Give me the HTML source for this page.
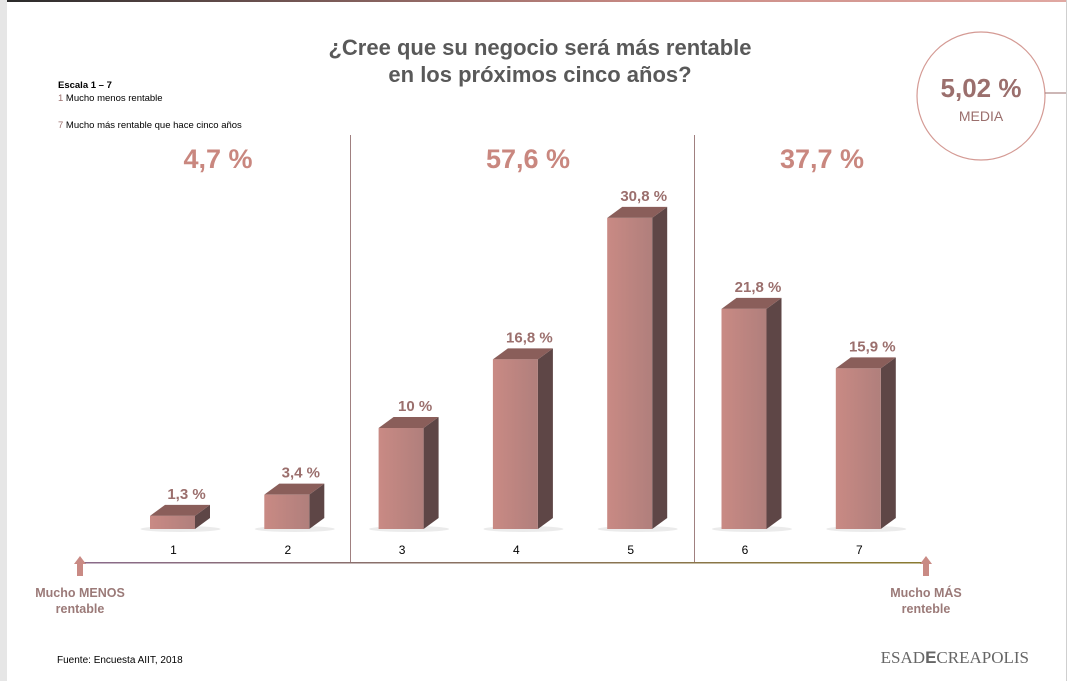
<!DOCTYPE html>
<html><head><meta charset="utf-8"><style>
body{margin:0;width:1068px;height:681px;overflow:hidden;background:#fff;font-family:"Liberation Sans",Verdana,sans-serif}
</style></head><body>
<svg width="1068" height="681" viewBox="0 0 1068 681" style="display:block">
<defs>
<linearGradient id="front" x1="0" x2="1"><stop offset="0" stop-color="#c98a84"/><stop offset="1" stop-color="#b07f7c"/></linearGradient>
<linearGradient id="topl" x1="0" x2="1"><stop offset="0" stop-color="#2a2a2a"/><stop offset="0.6" stop-color="#c98a84"/><stop offset="1" stop-color="#e0a8a2"/></linearGradient>
<linearGradient id="axisg" x1="0" x2="1"><stop offset="0" stop-color="#8a6a8a"/><stop offset="1" stop-color="#8a7a30"/></linearGradient>
</defs>
<rect x="0" y="0" width="7" height="681" fill="#e6e6e6"/>
<rect x="7" y="0" width="1060" height="2" fill="url(#topl)"/>
<line x1="1066.5" y1="0" x2="1066.5" y2="681" stroke="#cfcfcf"/>
<text x="540" y="55" text-anchor="middle" font-size="22" font-weight="bold" fill="#595959">¿Cree que su negocio será más rentable</text>
<text x="540" y="82" text-anchor="middle" font-size="22" font-weight="bold" fill="#595959">en los próximos cinco años?</text>
<g font-family="Liberation Sans, Verdana, sans-serif" font-size="9.5">
<text x="58" y="88" font-weight="bold" fill="#000">Escala 1 – 7</text>
<text x="58" y="101" fill="#000"><tspan fill="#9b6f6d">1</tspan> Mucho menos rentable</text>
<text x="58" y="128" fill="#000"><tspan fill="#9b6f6d">7</tspan>  Mucho más rentable que hace cinco años</text>
</g>
<circle cx="981" cy="96" r="64" fill="#fff" stroke="#d49a94" stroke-width="1.2"/>
<line x1="1045" y1="93" x2="1066" y2="93" stroke="#9b6f6d"/>
<text x="981" y="97" text-anchor="middle" font-size="26" font-weight="bold" fill="#9b6f6d">5,02 %</text>
<text x="981" y="121" text-anchor="middle" font-size="14" fill="#9b6f6d">MEDIA</text>
<line x1="350.5" y1="135" x2="350.5" y2="562" stroke="#a08080"/>
<line x1="694.5" y1="135" x2="694.5" y2="562" stroke="#a08080"/>
<text x="218" y="168" text-anchor="middle" font-size="27" font-weight="bold" fill="#c9877f">4,7 %</text>
<text x="528" y="168" text-anchor="middle" font-size="27" font-weight="bold" fill="#c9877f">57,6 %</text>
<text x="822" y="168" text-anchor="middle" font-size="27" font-weight="bold" fill="#c9877f">37,7 %</text>
<rect x="80" y="562" width="850" height="1.5" fill="url(#axisg)"/>
<g><polygon points="80,556 74,564 77,564 77,576 83,576 83,564 86,564" fill="#c98a84"/></g>
<g><polygon points="926,556 920,564 923,564 923,576 929,576 929,564 932,564" fill="#c98a84"/></g>
<g font-size="12.5" font-weight="bold" fill="#9b7a78" text-anchor="middle">
<text x="80" y="597">Mucho MENOS</text>
<text x="80" y="613">rentable</text>
<text x="926" y="597">Mucho MÁS</text>
<text x="926" y="613">renteble</text>
</g>
<text x="57" y="663" font-size="10" fill="#000">Fuente: Encuesta AIIT, 2018</text>
<text x="1029" y="663" text-anchor="end" font-family="Liberation Serif, serif" font-size="17" fill="#666">ESAD<tspan font-family="Liberation Sans, sans-serif" font-weight="bold">E</tspan>CREAPOLIS</text>
<g id="bars"></g>
</svg>
<script>
const categories = ["1","2","3","4","5","6","7"];
const values = [1.3, 3.4, 10, 16.8, 30.8, 21.8, 15.9];
const valueLabels = ["1,3 %","3,4 %","10 %","16,8 %","30,8 %","21,8 %","15,9 %"];
const NS = "http://www.w3.org/2000/svg";
const base = 529, scale = 10.1, x0 = 150, step = 114.3, bw = 45, dx = 15, dy = 11;
const xPos = i => x0 + i * step;
const yPos = v => base - v * scale;
const g = document.getElementById("bars");
function mk(tag, attrs){const e=document.createElementNS(NS,tag);for(const k in attrs)e.setAttribute(k,attrs[k]);g.appendChild(e);return e;}
values.forEach((v,i)=>{
  const x = xPos(i), y = yPos(v);
  const sh = mk("ellipse",{cx:x+bw/2+8,cy:base,rx:40,ry:3,fill:"#ddd",opacity:0.6});
  
  
  const side = mk("polygon",{points:`${x+bw},${y} ${x+bw+dx},${y-dy} ${x+bw+dx},${base-dy} ${x+bw},${base}`,fill:"#5e4646"});
  
  
  const top = mk("polygon",{points:`${x},${y} ${x+dx},${y-dy} ${x+bw+dx},${y-dy} ${x+bw},${y}`,fill:"#8a5e5a"});
  
  
  const f = mk("rect",{x:x,y:y,width:bw,height:base-y,fill:"url(#front)"});
  
  
  const t = mk("text",{x:x+bw/2+14,y:y-dy-6,"text-anchor":"middle","font-size":15,"font-weight":"bold",fill:"#9b6f6d"});
  t.textContent = valueLabels[i];
  
  
  const c = mk("text",{x:x+bw/2+1,y:554,"text-anchor":"middle","font-size":12,fill:"#000"});
  c.textContent = categories[i];
  
  
});
</script>
</body></html>
